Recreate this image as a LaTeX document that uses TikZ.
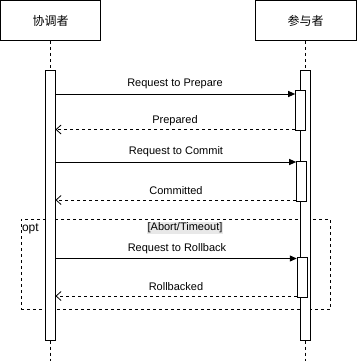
\documentclass[tikz,border=0pt]{standalone}
\usepackage{fontspec}
\setmainfont{Liberation Sans}
\newfontfamily\cjk{Noto Sans CJK SC}
\usetikzlibrary{arrows.meta}
\begin{document}
\begin{tikzpicture}[x=1pt,y=-1pt,line width=1pt,
  actor/.style={draw,fill=white,minimum width=100pt,minimum height=40pt,inner sep=0pt,font=\cjk\fontsize{12}{14}\selectfont},
  bar/.style={draw,fill=white,minimum width=10pt,inner sep=0pt},
  life/.style={dash pattern=on 3pt off 3pt},
  req/.style={-{Triangle[length=7pt,width=6pt]}},
  ret/.style={dash pattern=on 3pt off 3pt,-{Straight Barb[length=5pt,width=9pt,line width=0.8pt]}},
  lbl/.style={font=\fontsize{11}{13}\selectfont,inner sep=0pt},
  frame/.style={draw,dash pattern=on 3pt off 3pt,inner sep=0pt}]
\useasboundingbox (0,0) rectangle (357,361);
% actors
\node[actor] (coord) at (50.5,20.5) {协调者};
\node[actor,minimum width=101pt] (part) at (305.5,20.5) {参与者};
% opt frame (behind bars)
\node[frame,minimum width=309.5pt,minimum height=90pt] (opt) at (175.75,264) {};
\node[lbl,font=\fontsize{12}{14}\selectfont,anchor=west] (optl) at (21.5,229) {opt};
\node[lbl,fill=black!9,inner sep=1pt] (cond) at (185,228) {[Abort/Timeout]};
% bottom ends of lifelines
\coordinate (cend) at (50.5,361);
\coordinate (pend) at (305.7,361);
% activation bars
\node[bar,minimum height=269.5pt] (cbar) at (50.5,205.25) {};
\node[bar,minimum height=269.5pt] (pbar) at (305.7,205.25) {};
\draw[life] (coord.south) -- (cbar.north);
\draw[life] (part.south -| pbar.north) -- (pbar.north);
\draw[life] (cbar.south) -- (cend);
\draw[life] (pbar.south) -- (pend);
% inner activations
\node[bar,minimum height=40pt] (b1) at (300.7,110) {};
\node[bar,minimum height=40pt] (b2) at (301.7,181) {};
\node[bar,minimum height=40pt] (b3) at (302.3,277) {};
% message anchors on coordinator bar
\coordinate (a1) at (55.5,94);
\coordinate (r1) at (55.5,129.5);
\coordinate (a2) at (55.5,162);
\coordinate (r2) at (55.5,200);
\coordinate (a3) at (55.5,258.5);
\coordinate (r3) at (55.5,296);
% messages
\draw[req] (a1) -- (b1.west |- a1);
\draw[ret] (b1.west |- r1) -- (r1);
\draw[req] (a2) -- (b2.west |- a2);
\draw[ret] (b2.west |- r2) -- (r2);
\draw[req] (a3) -- (b3.west |- a3);
\draw[ret] (b3.west |- r3) -- (r3);
% labels
\node[lbl] (l1) at (175,84) {Request to Prepare};
\node[lbl] (l2) at (175,120.5) {Prepared};
\node[lbl] (l3) at (176,152) {Request to Commit};
\node[lbl] (l4) at (176,190.5) {Committed};
\node[lbl] (l5) at (177,249) {Request to Rollback};
\node[lbl] (l6) at (176,287) {Rollbacked};
\end{tikzpicture}
\end{document}
